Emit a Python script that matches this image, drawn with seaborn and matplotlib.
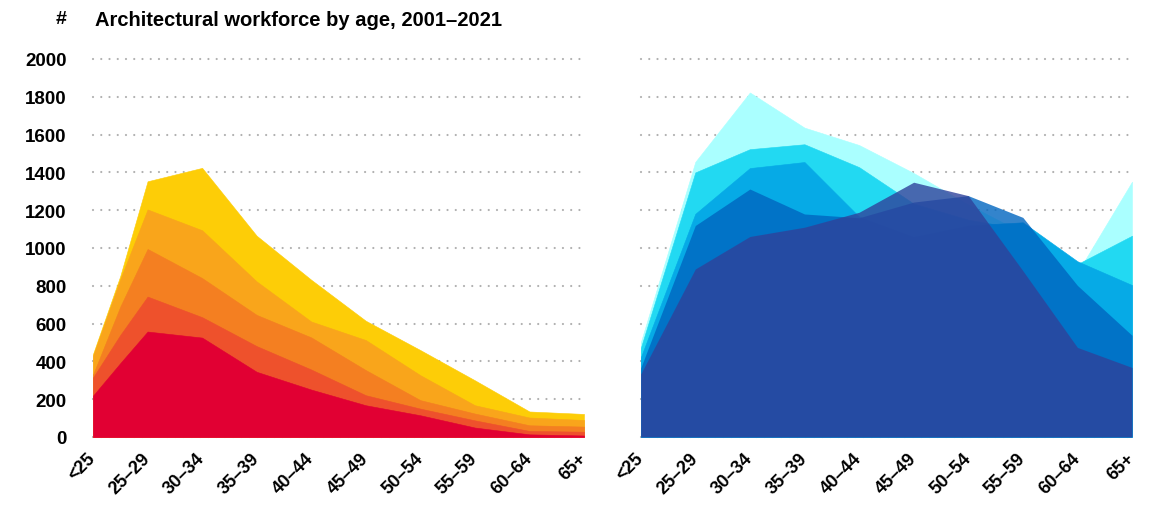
import matplotlib
matplotlib.use("Agg")
import matplotlib.pyplot as plt
from matplotlib.transforms import ScaledTranslation
import pandas as pd
import seaborn as sns

# age groups
age_labels = ["<25", "25–29", "30–34", "35–39", "40–44", "45–49",
              "50–54", "55–59", "60–64", "65+"]

# left panel: one extra reading half way between <25 and 25-29
left_pos = [0, 0.5, 1, 2, 3, 4, 5, 6, 7, 8, 9]
left_yellow = [439, 852, 1353, 1424, 1065, 832, 615, 460, 300, 135, 122]
left_lightorange = [430, 835, 1204, 1094, 823, 611, 513, 327, 168, 103, 90]
left_orange = [330, 690, 995, 841, 646, 527, 354, 195, 124, 62, 55]
left_redorange = [315, 540, 743, 634, 481, 357, 221, 150, 88, 32, 28]
left_red = [219, 391, 558, 526, 345, 251, 168, 115, 50, 14, 8]

# right panel
right_pos = [0, 1, 2, 3, 4, 5, 6, 7, 8, 9]
right_lightcyan = [500, 1456, 1823, 1637, 1545, 1397, 1230, 1080, 870, 1351]
right_cyan = [470, 1400, 1523, 1549, 1428, 1235, 1150, 1100, 915, 1065]
right_medblue = [420, 1181, 1423, 1455, 1166, 1060, 1120, 1136, 930, 804]
right_blue = [365, 1119, 1312, 1180, 1160, 1243, 1277, 1162, 802, 538]
right_navy = [333, 889, 1061, 1110, 1189, 1348, 1277, 880, 474, 368]

y_ticks = [0, 200, 400, 600, 800, 1000, 1200, 1400, 1600, 1800, 2000]


def draw_areas(ax, df, series, colors, alphas):
    for name, col, a in zip(series, colors, alphas):
        if a < 1:
            ax.fill_between(df["pos"], 0, df[name], color=col, alpha=a, lw=0, zorder=2)
        else:
            ax.fill_between(df["pos"], 0, df[name], color=col, lw=0.4, edgecolor=col, zorder=2)


def style_axes(ax, show_y):
    ax.set_xlim(0, 9)
    ax.set_ylim(0, 2000)
    ax.set_yticks(y_ticks)
    ax.set_xticks(right_pos)
    ax.set_xticklabels(age_labels, rotation=45, ha="right", va="center",
                       rotation_mode="anchor", fontsize=13, fontweight="bold",
                       color="black")
    for lab in ax.get_xticklabels():
        lab.set_transform(lab.get_transform() + ScaledTranslation(0.1, 0, ax.figure.dpi_scale_trans))
    if show_y:
        ax.set_yticklabels([str(v) for v in y_ticks], fontsize=13.5,
                           fontweight="bold", color="black")
    else:
        ax.set_yticklabels([])
    ax.tick_params(axis="both", length=0)
    ax.tick_params(axis="y", pad=19)
    ax.tick_params(axis="x", pad=13)
    ax.grid(axis="y", color="#b0b0b0", linewidth=1.6, linestyle=(0, (0.01, 3.7)),
            dash_capstyle="round")
    ax.grid(axis="x", visible=False)
    for gl in ax.get_ygridlines():
        gl.set_clip_on(False)
    ax.set_axisbelow(True)
    for s in ax.spines.values():
        s.set_visible(False)
    ax.set_xlabel("")
    ax.set_ylabel("")


def main():
    sns.set_theme(style="white")
    plt.rcParams["font.family"] = ["Liberation Sans", "DejaVu Sans"]

    left = pd.DataFrame({"pos": left_pos, "yellow": left_yellow,
                         "lightorange": left_lightorange, "orange": left_orange,
                         "redorange": left_redorange, "red": left_red})
    right = pd.DataFrame({"pos": right_pos, "lightcyan": right_lightcyan,
                          "cyan": right_cyan, "medblue": right_medblue,
                          "blue": right_blue, "navy": right_navy})

    fig = plt.figure(figsize=(11.56, 5.06), dpi=100)
    bottom = 1 - 438 / 506
    height = (438 - 60) / 506
    axL = fig.add_axes([93 / 1156, bottom, (584 - 93) / 1156, height])
    axR = fig.add_axes([640.7 / 1156, bottom, (1132 - 640.7) / 1156, height])

    draw_areas(axL, left,
               ["yellow", "lightorange", "orange", "redorange", "red"],
               ["#fdcd07", "#f9a51b", "#f47f21", "#ee512c", "#e10033"],
               [1, 1, 1, 1, 1])
    draw_areas(axR, right,
               ["lightcyan", "cyan", "medblue", "blue", "navy"],
               ["#aaffff", "#22d9f2", "#06aae6", "#0066c0", "#2f429b"],
               [1, 1, 1, 0.8, 0.8])

    style_axes(axL, True)
    style_axes(axR, False)

    fig.text(95 / 1156, 1 - 20 / 506, "Architectural workforce by age, 2001–2021",
             ha="left", va="center", fontsize=14.5, fontweight="bold", color="black")
    fig.text(67 / 1156, 1 - 20 / 506, "#", ha="right", va="center",
             fontsize=14, fontweight="bold", color="black")

    fig.savefig("out.png", dpi=100)


if __name__ == "__main__":
    main()
